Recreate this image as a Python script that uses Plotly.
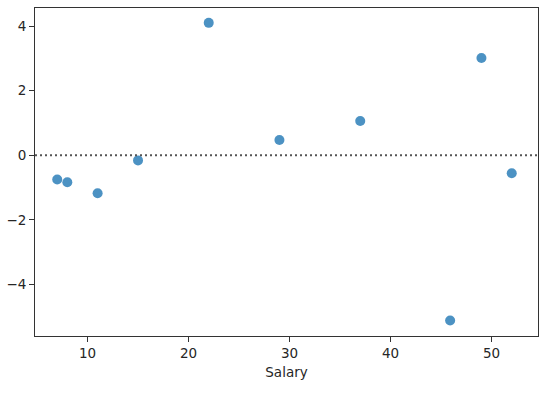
import plotly.graph_objects as go

salary = [7, 8, 11, 15, 22, 29, 37, 45.9, 49, 52]
residuals = [-0.75, -0.84, -1.18, -0.16, 4.10, 0.47, 1.06, -5.12, 3.01, -0.56]

fig = go.Figure()
fig.add_trace(go.Scatter(
    x=salary, y=residuals, mode="markers",
    marker=dict(size=10, color="#1f77b4", opacity=0.8, line=dict(width=0)),
    showlegend=False,
))
fig.add_shape(type="line", xref="paper", x0=0, x1=1, yref="y", y0=0, y1=0,
              line=dict(color="#555555", width=2, dash="2px,3px"))

axis_common = dict(
    showgrid=False, zeroline=False, showline=True, mirror=True,
    linecolor="#333333", linewidth=1, ticks="outside", ticklen=5,
    tickcolor="#333333", tickwidth=1, automargin=False,
    tickfont=dict(family="DejaVu Sans", size=13.5, color="#262626"),
)
fig.update_xaxes(range=[4.8, 54.6], tickvals=[10, 20, 30, 40, 50],
                 title=dict(text="Salary", font=dict(family="DejaVu Sans", size=13.5, color="#262626"), standoff=7),
                 **axis_common)
fig.update_yaxes(range=[-5.6, 4.56], tickvals=[-4, -2, 0, 2, 4], **axis_common)
fig.update_layout(
    width=556, height=397,
    margin=dict(l=35, r=18, t=8, b=61),
    plot_bgcolor="white", paper_bgcolor="white",
)
fig.write_html("out.html", config={"displayModeBar": False},
               post_script="document.body.style.margin='0';document.body.style.overflow='hidden';")
